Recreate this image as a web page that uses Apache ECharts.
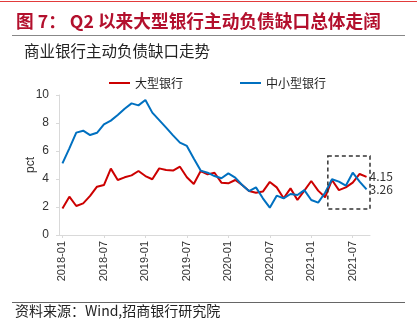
<!DOCTYPE html>
<html>
<head>
<meta charset="utf-8">
<script src="https://cdn.jsdelivr.net/npm/echarts@6/dist/echarts.min.js"></script>
<style>
html,body{margin:0;padding:0;background:#fff;}
#c{width:417px;height:331px;}
</style>
</head>
<body>
<div id="c"></div>
<script>
// ---- data ----
const months = [
  '2018-01','2018-02','2018-03','2018-04','2018-05','2018-06','2018-07','2018-08','2018-09','2018-10','2018-11','2018-12',
  '2019-01','2019-02','2019-03','2019-04','2019-05','2019-06','2019-07','2019-08','2019-09','2019-10','2019-11','2019-12',
  '2020-01','2020-02','2020-03','2020-04','2020-05','2020-06','2020-07','2020-08','2020-09','2020-10','2020-11','2020-12',
  '2021-01','2021-02','2021-03','2021-04','2021-05','2021-06','2021-07','2021-08','2021-09'
];
const largeBanks = [
  1.90,2.74,2.07,2.26,2.79,3.45,3.57,4.74,3.93,4.12,4.26,4.57,
  4.21,3.98,4.76,4.64,4.60,4.88,4.12,3.64,4.57,4.33,4.45,3.74,
  3.69,3.93,3.57,3.14,3.02,3.10,3.79,3.40,2.62,3.33,2.50,3.17,
  3.86,3.17,2.69,3.93,3.21,3.40,3.74,4.36,4.15
];
const smallMidBanks = [
  5.12,6.19,7.31,7.45,7.14,7.30,7.90,8.17,8.57,9.02,9.40,9.26,
  9.64,8.74,8.21,7.67,7.12,6.60,6.36,5.47,4.60,4.45,4.21,4.05,
  4.40,4.10,3.57,3.14,3.40,2.62,1.95,2.81,2.62,2.93,2.86,3.21,
  2.50,2.31,3.02,3.98,3.81,3.52,4.45,3.81,3.26
];
const seriesNames = ['大型银行','中小型银行'];
const yTicks = {min:0, max:10, interval:2};
// highlighted region (category index range, value range)
const boxRange = {x0:38.4, x1:44.5, y0:1.85, y1:5.65};

const titleText = '图 7： Q2 以来大型银行主动负债缺口总体走阔';
const subTitleText = '商业银行主动负债缺口走势';
const sourceText = '资料来源：Wind,招商银行研究院';

const chart = echarts.init(document.getElementById('c'), null, {renderer:'canvas'});
const cjk = '"Noto Sans CJK SC", "Noto Sans", sans-serif';
const latin = '"Liberation Sans", Arial, sans-serif';

const option = {
  animation:false,
  backgroundColor:'#fff',
  color:['#cc0000','#0070c0'],
  grid:{left:59, right:47, top:95, bottom:96, containLabel:false},
  legend:{
    left:104, top:72,
    icon:'rect', itemWidth:21, itemHeight:2, itemGap:57,
    textStyle:{fontFamily:cjk, fontSize:12, color:'#222'},
    data:seriesNames
  },
  xAxis:{
    type:'category', data:months, boundaryGap:true,
    axisLine:{lineStyle:{color:'#d9d9d9'}},
    axisTick:{show:true, interval:5, alignWithLabel:true, length:3, lineStyle:{color:'#d9d9d9'}},
    axisLabel:{interval:5, rotate:90, fontFamily:latin, fontSize:11, color:'#333', margin:6}
  },
  yAxis:{
    type:'value', min:yTicks.min, max:yTicks.max, interval:yTicks.interval,
    name:'pct', nameLocation:'middle', nameGap:22, nameMoveOverlap:false,
    nameTextStyle:{fontFamily:latin, fontSize:12, color:'#333'},
    axisLine:{show:true, lineStyle:{color:'#d9d9d9'}},
    axisTick:{show:true, length:3, lineStyle:{color:'#d9d9d9'}},
    splitLine:{show:false},
    axisLabel:{fontFamily:latin, fontSize:12, color:'#333', margin:10}
  },
  series:[
    {name:seriesNames[0], type:'line', data:largeBanks, showSymbol:false, symbol:'none',
     lineStyle:{width:2, color:'#cc0000'},
     endLabel:{show:true, formatter:p=>p.value.toFixed(2), fontFamily:cjk, fontSize:12, color:'#333', distance:3}},
    {name:seriesNames[1], type:'line', data:smallMidBanks, showSymbol:false, symbol:'none',
     lineStyle:{width:2, color:'#0070c0'},
     endLabel:{show:true, formatter:p=>p.value.toFixed(2), fontFamily:cjk, fontSize:12, color:'#333', distance:3}}
  ],
  graphic:[
    {type:'line', shape:{x1:0,y1:1.5,x2:417,y2:1.5}, style:{stroke:'#e23b3b', lineWidth:1.2}},
    {type:'text', left:16, top:12, style:{text:titleText, fontFamily:cjk, fontSize:17.7, fontWeight:'bold', fill:'#b3102d'}},
    {type:'line', shape:{x1:12,y1:35.5,x2:405,y2:35.5}, style:{stroke:'#888', lineWidth:1}},
    {type:'text', left:24, top:43, style:{text:subTitleText, fontFamily:cjk, fontSize:15.5, fill:'#222'}},
    {type:'line', shape:{x1:12,y1:302.5,x2:405,y2:302.5}, style:{stroke:'#666', lineWidth:1}},
    {type:'text', left:15, top:304, style:{text:sourceText, fontFamily:cjk, fontSize:14, fill:'#222'}}
  ]
};
chart.setOption(option);

// dashed highlight box positioned through the chart's own scales
function px(idx, val){
  const i0 = Math.floor(idx), f = idx - i0;
  const a = chart.convertToPixel({gridIndex:0}, [i0, val]);
  const b = chart.convertToPixel({gridIndex:0}, [i0+1, val]);
  return [a[0] + (b[0]-a[0])*f, a[1]];
}
const p0 = px(boxRange.x0, boxRange.y1);
const p1 = px(boxRange.x1, boxRange.y0);
chart.setOption({graphic: option.graphic.concat([
  {type:'rect', shape:{x:p0[0], y:p0[1], width:p1[0]-p0[0], height:p1[1]-p0[1]},
   style:{fill:'none', stroke:'#333', lineWidth:1.5, lineDash:[4,3]}, z:10}
])});
</script>
</body>
</html>
